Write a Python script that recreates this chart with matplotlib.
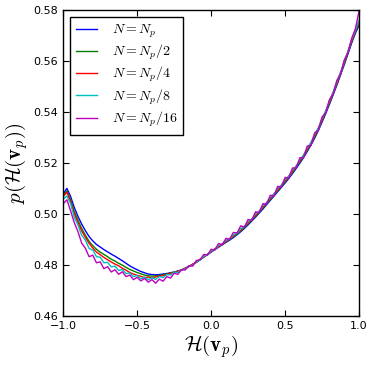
import numpy as np
import matplotlib
matplotlib.use('Agg')
import matplotlib.pyplot as plt

plt.rcParams['mathtext.fontset'] = 'cm'
plt.rcParams['font.family'] = ['DejaVu Sans']

# bin centres of H(v_p)
h = np.linspace(-1.0, 1.0, 81)

# p(H(v_p)) for each N
p_full = [0.5078, 0.5100, 0.5068, 0.5025, 0.4990, 0.4960, 0.4934, 0.4911, 0.4894, 0.4880,
          0.4870, 0.4860, 0.4851, 0.4842, 0.4834, 0.4825, 0.4816, 0.4806, 0.4796, 0.4788,
          0.4781, 0.4774, 0.4769, 0.4764, 0.4762, 0.4761, 0.4762, 0.4764, 0.4766, 0.4769,
          0.4772, 0.4776, 0.4780, 0.4787, 0.4794, 0.4802, 0.4810, 0.4820, 0.4830, 0.4840,
          0.4850, 0.4860, 0.4869, 0.4879, 0.4888, 0.4897, 0.4907, 0.4918, 0.4930, 0.4943,
          0.4957, 0.4972, 0.4987, 0.5003, 0.5019, 0.5036, 0.5053, 0.5070, 0.5087, 0.5104,
          0.5121, 0.5139, 0.5158, 0.5178, 0.5199, 0.5221, 0.5245, 0.5270, 0.5297, 0.5327,
          0.5360, 0.5394, 0.5430, 0.5467, 0.5505, 0.5545, 0.5585, 0.5627, 0.5670, 0.5708,
          0.5740]
p_half = [0.5073, 0.5090, 0.5056, 0.5010, 0.4975, 0.4943, 0.4916, 0.4892, 0.4875, 0.4861,
          0.4850, 0.4841, 0.4832, 0.4822, 0.4815, 0.4806, 0.4799, 0.4790, 0.4782, 0.4776,
          0.4770, 0.4765, 0.4760, 0.4757, 0.4756, 0.4757, 0.4758, 0.4761, 0.4764, 0.4768,
          0.4771, 0.4775, 0.4780, 0.4786, 0.4794, 0.4801, 0.4811, 0.4820, 0.4831, 0.4840,
          0.4851, 0.4861, 0.4870, 0.4881, 0.4890, 0.4900, 0.4910, 0.4921, 0.4933, 0.4946,
          0.4961, 0.4975, 0.4991, 0.5006, 0.5023, 0.5040, 0.5056, 0.5074, 0.5090, 0.5108,
          0.5125, 0.5143, 0.5162, 0.5182, 0.5203, 0.5225, 0.5249, 0.5274, 0.5301, 0.5331,
          0.5364, 0.5398, 0.5434, 0.5471, 0.5509, 0.5549, 0.5589, 0.5631, 0.5674, 0.5713,
          0.5746]
p_quarter = [0.5068, 0.5085, 0.5048, 0.5000, 0.4966, 0.4933, 0.4908, 0.4884, 0.4866, 0.4850,
             0.4840, 0.4829, 0.4820, 0.4811, 0.4803, 0.4796, 0.4787, 0.4779, 0.4770, 0.4764,
             0.4759, 0.4755, 0.4750, 0.4752, 0.4748, 0.4753, 0.4756, 0.4758, 0.4762, 0.4767,
             0.4769, 0.4775, 0.4779, 0.4787, 0.4793, 0.4803, 0.4810, 0.4822, 0.4830, 0.4842,
             0.4851, 0.4863, 0.4871, 0.4883, 0.4891, 0.4903, 0.4912, 0.4925, 0.4936, 0.4951,
             0.4963, 0.4980, 0.4994, 0.5011, 0.5026, 0.5044, 0.5060, 0.5079, 0.5094, 0.5113,
             0.5129, 0.5148, 0.5166, 0.5188, 0.5207, 0.5231, 0.5253, 0.5280, 0.5306, 0.5337,
             0.5368, 0.5404, 0.5438, 0.5477, 0.5513, 0.5555, 0.5593, 0.5637, 0.5678, 0.5719,
             0.5752]
p_eighth = [0.5058, 0.5070, 0.5040, 0.4986, 0.4956, 0.4916, 0.4897, 0.4864, 0.4858, 0.4832,
            0.4830, 0.4808, 0.4810, 0.4792, 0.4795, 0.4778, 0.4782, 0.4766, 0.4768, 0.4754,
            0.4758, 0.4745, 0.4752, 0.4741, 0.4750, 0.4743, 0.4754, 0.4750, 0.4762, 0.4760,
            0.4771, 0.4770, 0.4781, 0.4783, 0.4796, 0.4798, 0.4813, 0.4818, 0.4834, 0.4838,
            0.4855, 0.4860, 0.4876, 0.4881, 0.4897, 0.4901, 0.4918, 0.4924, 0.4942, 0.4950,
            0.4970, 0.4979, 0.5001, 0.5010, 0.5033, 0.5043, 0.5066, 0.5077, 0.5101, 0.5112,
            0.5136, 0.5147, 0.5173, 0.5186, 0.5214, 0.5229, 0.5260, 0.5278, 0.5313, 0.5336,
            0.5375, 0.5403, 0.5445, 0.5476, 0.5520, 0.5553, 0.5600, 0.5636, 0.5684, 0.5720,
            0.5760]
p_sixteenth = [0.5040, 0.5055, 0.5012, 0.4965, 0.4930, 0.4885, 0.4865, 0.4832, 0.4838, 0.4808,
               0.4812, 0.4785, 0.4793, 0.4772, 0.4781, 0.4763, 0.4773, 0.4754, 0.4760, 0.4742,
               0.4751, 0.4737, 0.4747, 0.4732, 0.4742, 0.4728, 0.4744, 0.4736, 0.4754, 0.4748,
               0.4767, 0.4763, 0.4781, 0.4780, 0.4797, 0.4795, 0.4817, 0.4820, 0.4841, 0.4838,
               0.4861, 0.4858, 0.4884, 0.4878, 0.4904, 0.4900, 0.4927, 0.4925, 0.4953, 0.4948,
               0.4978, 0.4975, 0.5008, 0.5005, 0.5040, 0.5038, 0.5073, 0.5070, 0.5108, 0.5105,
               0.5143, 0.5140, 0.5180, 0.5180, 0.5220, 0.5220, 0.5266, 0.5268, 0.5318, 0.5328,
               0.5380, 0.5396, 0.5448, 0.5470, 0.5523, 0.5548, 0.5603, 0.5632, 0.5688, 0.5725,
               0.5795]

series = [p_full, p_half, p_quarter, p_eighth, p_sixteenth]
labels = [r'$N=N_p$', r'$N=N_p/2$', r'$N=N_p/4$', r'$N=N_p/8$', r'$N=N_p/16$']
colors = ['b', 'g', 'r', 'c', 'm']

fig = plt.figure(figsize=(3.74, 3.66), dpi=100)
ax = fig.add_axes([0.169, 0.137, 0.791, 0.836])

for p, lab, col in zip(series, labels, colors):
    ax.plot(h, p, color=col, lw=1.0, label=lab)

ax.set_xlim(-1, 1)
ax.set_ylim(0.46, 0.58)
ax.set_xticks([-1.0, -0.5, 0.0, 0.5, 1.0])
ax.set_yticks([0.46, 0.48, 0.50, 0.52, 0.54, 0.56, 0.58])
ax.tick_params(direction='in', top=True, right=True, labelsize=8, length=4, pad=4)
for s in ax.spines.values():
    s.set_linewidth(1.0)

ax.set_xlabel(r'$\mathcal{H}(\mathbf{v}_p)$', fontsize=15, labelpad=1)
ax.set_ylabel(r'$p(\mathcal{H}(\mathbf{v}_p))$', fontsize=15, labelpad=2)

leg = ax.legend(loc='upper left', fontsize=10, fancybox=False, framealpha=1,
                edgecolor='black', handlelength=1.5, handletextpad=1.1,
                labelspacing=0.22, borderpad=0.4, borderaxespad=0.5)
leg.get_frame().set_linewidth(1.0)

plt.savefig('out.png', dpi=100)
